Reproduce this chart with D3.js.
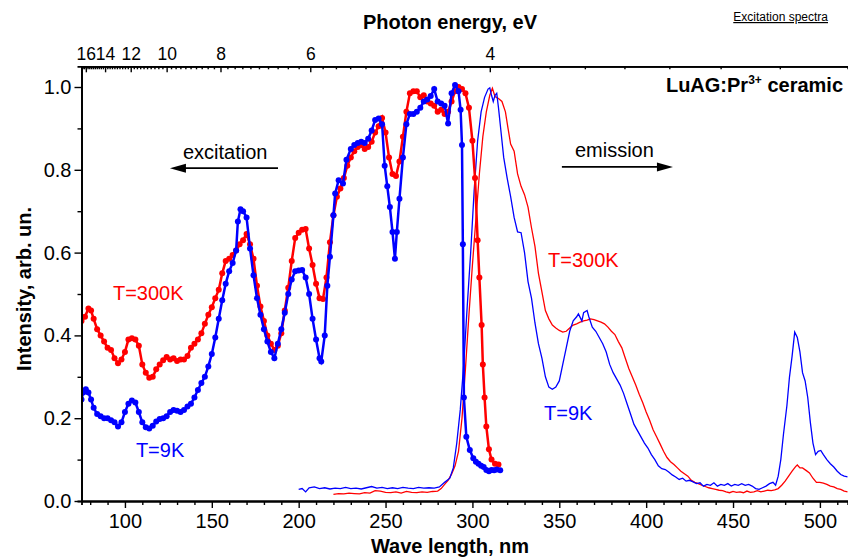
<!DOCTYPE html>
<html>
<head>
<meta charset="utf-8">
<script src="https://cdn.jsdelivr.net/npm/d3@7"></script>
<style>
  body { margin: 0; background: #fff; }
  svg { font-family: "Liberation Sans", Arial, sans-serif; }
</style>
</head>
<body>
<svg id="chart"></svg>
<script>
// excitation, T=300K (red, with markers)
const excRedWl = [75,77,79,80.5,82,84,86,88,90,92,94,96,98,100,102,104,106,108,110,112,114,116,118,120,122,124,126,128,130,132,134,136,138,140,142,144,146,148,150,152,154,156,158,160,162,164,166,168,170,172,174,176,178,180,182,184,186,188,190,192,194,196,198,200,202,204,206,208,210,212,214,216,218,220,222,224,226,228,230,232,234,236,238,240,242,244,246,248,250,252,254,256,258,260,262,264,266,268,270,272,274,276,278,280,282,284,286,288,290,292,294,296,298,300,301.5,303,304,305.3,306,307,308,309.5,311,313,315];
const excRedVal = [0.435,0.445,0.465,0.46,0.44,0.415,0.40,0.385,0.37,0.365,0.345,0.333,0.342,0.36,0.39,0.393,0.39,0.375,0.33,0.31,0.298,0.30,0.318,0.33,0.34,0.348,0.342,0.345,0.338,0.342,0.342,0.35,0.37,0.38,0.39,0.405,0.428,0.45,0.468,0.49,0.51,0.55,0.58,0.585,0.594,0.605,0.62,0.63,0.645,0.62,0.585,0.52,0.47,0.435,0.40,0.38,0.365,0.375,0.405,0.46,0.515,0.58,0.635,0.648,0.655,0.657,0.61,0.57,0.525,0.49,0.488,0.54,0.625,0.69,0.735,0.755,0.78,0.81,0.83,0.845,0.855,0.86,0.85,0.855,0.868,0.89,0.905,0.925,0.89,0.83,0.79,0.785,0.82,0.88,0.94,0.985,0.99,0.99,0.975,0.98,0.965,0.96,0.955,0.94,0.945,0.935,0.94,0.965,0.99,1.0,0.995,0.985,0.95,0.87,0.78,0.63,0.54,0.425,0.33,0.25,0.18,0.125,0.10,0.09,0.088];

// excitation, T=9K (blue, with markers)
const excBlueWl = [75,76,77.5,79,80.5,82,84,86,88,90,92,94,96,98,100,102,104,106,108,110,112,114,116,118,120,122,124,126,128,130,132,134,136,138,140,142,144,146,148,150,152,154,156,158,160,162,164,165,166.5,168,170,172,174,176,178,180,182,184,186,188,190,192,194,196,198,200,202,204,206,208,210,212,213,215,216.5,218,220,221,223,225.5,227.5,230,232,234,236,238,240,242,244,246,248,249.5,251,252.5,254,255.4,256.5,258,260,262,264,266,268,270,272,274,276,278,280,282,284,286,288,290,292,293.2,294,294.5,295.1,296.5,298.5,300.5,302,303.5,305,306.5,308,309.5,311,312.5,314,316];
const excBlueVal = [0.245,0.262,0.27,0.262,0.245,0.225,0.21,0.205,0.2,0.2,0.195,0.19,0.18,0.19,0.215,0.235,0.243,0.238,0.215,0.19,0.178,0.175,0.182,0.192,0.198,0.2,0.205,0.215,0.22,0.218,0.215,0.22,0.228,0.235,0.25,0.268,0.285,0.30,0.325,0.355,0.395,0.44,0.485,0.525,0.555,0.575,0.605,0.675,0.705,0.70,0.685,0.61,0.545,0.49,0.45,0.415,0.385,0.36,0.345,0.38,0.415,0.455,0.50,0.535,0.555,0.557,0.558,0.54,0.50,0.44,0.39,0.345,0.337,0.40,0.52,0.59,0.69,0.743,0.775,0.767,0.824,0.85,0.86,0.865,0.868,0.865,0.875,0.895,0.92,0.924,0.91,0.81,0.76,0.71,0.65,0.585,0.65,0.73,0.83,0.91,0.935,0.935,0.94,0.95,0.965,0.97,0.978,0.995,0.965,0.96,0.955,0.912,0.985,1.005,0.99,0.945,0.86,0.62,0.25,0.155,0.123,0.103,0.095,0.09,0.085,0.082,0.075,0.072,0.075,0.074,0.076,0.074];

// emission, T=9K (blue, thin line)
const emBlueWl = [200,202,204,206,209,212,215,218,221,224,227,230,233,236,239,242,245,248,251,254,257,260,263,266,269,272,275,278,281,284,287,289,291,293,295,297,299,301,303,305,307,309,310,311,312,313,314,315,316,318,320,322,324,326,328,330,332,334,336,338,340,342,344,346,348,350,352,354,356,358,360,361,363,364,366,367,369,371,373,375,377,379,381,383,385,387,389,391,393,395,397,399,401,403,405,407,409,411,413,415,417,419,421,423,425,427,429,431,433,435,437,439,441,443,445,447,449,451,453,455,457,459,461,463,465,467,469,471,473,474.5,476,477.5,479,481,482.5,484,485.5,487,488.5,490,491.5,493,494.5,496,497.5,499,500.5,502,504,506,508,510,512,514,516];
const emBlueVal = [0.028,0.03,0.022,0.032,0.034,0.03,0.032,0.029,0.031,0.03,0.033,0.03,0.031,0.029,0.032,0.035,0.031,0.033,0.03,0.032,0.03,0.033,0.031,0.03,0.033,0.031,0.032,0.031,0.034,0.045,0.055,0.08,0.14,0.22,0.33,0.47,0.6,0.75,0.87,0.94,0.975,0.995,0.998,0.98,0.965,0.98,0.985,0.95,0.91,0.83,0.78,0.735,0.685,0.65,0.648,0.6,0.53,0.49,0.43,0.38,0.345,0.3,0.275,0.27,0.275,0.29,0.33,0.37,0.41,0.435,0.445,0.452,0.435,0.455,0.46,0.445,0.42,0.41,0.395,0.38,0.36,0.33,0.31,0.295,0.28,0.26,0.235,0.21,0.185,0.17,0.155,0.14,0.128,0.112,0.1,0.085,0.078,0.076,0.07,0.063,0.058,0.052,0.055,0.048,0.05,0.046,0.042,0.044,0.036,0.04,0.038,0.044,0.036,0.04,0.038,0.042,0.036,0.04,0.038,0.042,0.038,0.04,0.036,0.03,0.028,0.032,0.036,0.042,0.045,0.038,0.06,0.1,0.16,0.23,0.3,0.35,0.408,0.395,0.36,0.31,0.29,0.25,0.19,0.14,0.112,0.12,0.122,0.112,0.1,0.09,0.082,0.072,0.064,0.06,0.058];

// emission, T=300K (red, thin line)
const emRedWl = [220,223,226,229,232,235,238,241,244,247,250,253,256,259,262,265,268,271,274,277,280,282,284,286,288,290,292,294,296,298,300,302,304,306,308,310,311.5,313,315,317,319,320.5,322,324,326,328,330,332,334,336,338,340,342,344,346,348,350,352,354,356,358,360,362,364,366,368,370,372,374,376,378,380,382,384,386,388,390,392,394,396,398,400,402,404,406,408,410,412,414,416,418,420,422,424,426,428,430,432,434,436,438,440,442,444,446,448,450,452,454,456,458,460,462,464,466,468,470,472,474,476,478,480,482,484,486,487,488.5,490,492,494,496,498,500,502,504,506,508,510,512,514,516];
const emRedVal = [0.016,0.018,0.017,0.019,0.018,0.017,0.02,0.019,0.025,0.024,0.021,0.02,0.022,0.019,0.023,0.021,0.02,0.022,0.021,0.023,0.024,0.03,0.04,0.05,0.065,0.085,0.12,0.2,0.32,0.45,0.57,0.68,0.79,0.88,0.94,0.98,0.997,0.977,0.972,0.965,0.94,0.9,0.862,0.845,0.79,0.76,0.74,0.71,0.66,0.615,0.55,0.505,0.46,0.44,0.425,0.418,0.412,0.408,0.41,0.418,0.425,0.428,0.432,0.435,0.437,0.44,0.438,0.435,0.432,0.428,0.42,0.41,0.402,0.385,0.37,0.345,0.32,0.3,0.28,0.258,0.238,0.215,0.195,0.172,0.155,0.138,0.12,0.105,0.095,0.088,0.08,0.072,0.066,0.06,0.05,0.045,0.042,0.038,0.035,0.032,0.03,0.028,0.026,0.025,0.022,0.02,0.023,0.021,0.022,0.02,0.024,0.021,0.022,0.025,0.022,0.024,0.026,0.025,0.027,0.03,0.038,0.048,0.06,0.072,0.083,0.087,0.08,0.08,0.074,0.068,0.055,0.045,0.045,0.043,0.04,0.036,0.034,0.03,0.028,0.024,0.022];

// axis ticks
const wlMajor = [100,150,200,250,300,350,400,450,500];
const yMajor = [0.0,0.2,0.4,0.6,0.8,1.0];
const eMajor = [16,14,12,10,8,6,4];

const width = 848, height = 557;
const svg = d3.select("#chart").attr("width", width).attr("height", height);

const x = d3.scaleLinear().domain([75, 516]).range([81.5, 847.7]);
const y = d3.scaleLinear().domain([0, 1.05]).range([501, 66.3]);

const RED = "#ff0000", BLUE = "#0000ff";

svg.append("defs").append("clipPath").attr("id", "plot")
  .append("rect").attr("x", x(75)).attr("y", y(1.05))
  .attr("width", x(516) - x(75)).attr("height", y(0) - y(1.05));

const line = d3.line().x(d => x(d[0])).y(d => y(d[1]));
const plot = svg.append("g").attr("clip-path", "url(#plot)");

function thin(wl, val, color) {
  plot.append("path").datum(d3.zip(wl, val))
    .attr("fill", "none").attr("stroke", color)
    .attr("stroke-width", 1.3).attr("d", line);
}
function dotted(wl, val, color) {
  const pts = d3.zip(wl, val);
  plot.append("path").datum(pts)
    .attr("fill", "none").attr("stroke", color)
    .attr("stroke-width", 2.5).attr("d", line);
  plot.append("g").selectAll("circle").data(pts).enter().append("circle")
    .attr("cx", d => x(d[0])).attr("cy", d => y(d[1]))
    .attr("r", 3).attr("fill", color);
}

thin(emRedWl, emRedVal, RED);
thin(emBlueWl, emBlueVal, BLUE);
dotted(excRedWl, excRedVal, RED);
dotted(excBlueWl, excBlueVal, BLUE);

// axes
const minorWl = d3.range(80, 516, 10).filter(v => v % 50 !== 0);
const minorY = [0.1, 0.3, 0.5, 0.7, 0.9];
const eMinor = d3.range(26, 166, 2).map(v => v / 10).filter(v => v % 2 !== 0);

function style(size) {
  return g => {
    g.select(".domain").attr("stroke-width", 1.8);
    g.selectAll(".tick line").attr("stroke-width", 1.4);
    g.selectAll("text").attr("font-size", size).attr("fill", "#000")
      .attr("font-family", "Liberation Sans, Arial, sans-serif");
  };
}

svg.append("g").attr("transform", `translate(0,${y(0)})`)
  .call(d3.axisBottom(x).tickValues(minorWl).tickSize(4).tickFormat(""))
  .call(style(20));
svg.append("g").attr("transform", `translate(0,${y(0)})`)
  .call(d3.axisBottom(x).tickValues(wlMajor).tickSize(7).tickPadding(6).tickSizeOuter(0))
  .call(style(20));

svg.append("g").attr("transform", `translate(${x(75)},0)`)
  .call(d3.axisLeft(y).tickValues(minorY).tickSize(4).tickFormat(""))
  .call(style(20));
svg.append("g").attr("transform", `translate(${x(75)},0)`)
  .call(d3.axisLeft(y).tickValues(yMajor).tickSize(7).tickPadding(3)
    .tickFormat(d3.format(".1f")).tickSizeOuter(0))
  .call(style(20));

// top axis: photon energy, E = 1240 / wavelength
const toWl = e => 1240 / e;
svg.append("g").attr("transform", `translate(0,${y(1.05)})`)
  .call(d3.axisBottom(x).tickValues(eMinor.map(toWl)).tickSize(3).tickFormat(""))
  .call(style(18));
svg.append("g").attr("transform", `translate(0,${y(1.05)})`)
  .call(d3.axisBottom(x).tickValues(eMajor.map(toWl)).tickSize(6).tickFormat("").tickSizeOuter(0))
  .call(style(18));
svg.append("g").attr("transform", `translate(0,${y(1.05)})`)
  .call(d3.axisTop(x).tickValues(eMajor.map(toWl)).tickSize(0).tickPadding(6)
    .tickFormat(d => d3.format("d")(Math.round(1240 / d))))
  .call(g => g.select(".domain").remove())
  .call(style(17.5));

// titles
svg.append("text").attr("x", 450).attr("y", 29).attr("text-anchor", "middle")
  .attr("font-size", 20).attr("font-weight", "bold").text("Photon energy, eV");
svg.append("text").attr("x", 450).attr("y", 553).attr("text-anchor", "middle")
  .attr("font-size", 20).attr("font-weight", "bold").text("Wave length, nm");
svg.append("text").attr("transform", "translate(31,289) rotate(-90)")
  .attr("text-anchor", "middle").attr("font-size", 20).attr("font-weight", "bold")
  .text("Intensity, arb. un.");

svg.append("text").attr("x", 828).attr("y", 21).attr("text-anchor", "end")
  .attr("font-size", 12).attr("text-decoration", "underline").text("Excitation spectra");

const sample = svg.append("text").attr("x", 843).attr("y", 92).attr("text-anchor", "end")
  .attr("font-size", 20).attr("font-weight", "bold");
sample.append("tspan").text("LuAG:Pr");
sample.append("tspan").attr("font-size", 12).attr("dy", -8).text("3+");
sample.append("tspan").attr("dy", 8).text(" ceramic");

// curve labels, placed in data coordinates
const labels = [
  { text: "T=300K", wl: 93.1, v: 0.486, color: RED },
  { text: "T=9K", wl: 106.3, v: 0.106, color: BLUE },
  { text: "T=300K", wl: 343.5, v: 0.565, color: RED },
  { text: "T=9K", wl: 341.2, v: 0.196, color: BLUE },
  { text: "excitation", wl: 133.4, v: 0.826, color: "#000" },
  { text: "emission", wl: 359, v: 0.831, color: "#000" }
];
svg.append("g").selectAll("text").data(labels).enter().append("text")
  .attr("x", d => x(d.wl)).attr("y", d => y(d.v))
  .attr("font-size", 20).attr("fill", d => d.color).text(d => d.text);

// arrows
const arrows = [
  { from: 188.1, to: 125.9, v: 0.804 },
  { from: 351.5, to: 415.4, v: 0.807 }
];
arrows.forEach(a => {
  const dir = Math.sign(x(a.to) - x(a.from));
  const tipX = x(a.to), yy = y(a.v);
  svg.append("line").attr("x1", x(a.from)).attr("x2", tipX - dir * 12)
    .attr("y1", yy).attr("y2", yy).attr("stroke", "#000").attr("stroke-width", 1.6);
  svg.append("path")
    .attr("d", `M${tipX},${yy} L${tipX - dir * 16},${yy - 4.5} L${tipX - dir * 16},${yy + 4.5} Z`)
    .attr("fill", "#000");
});
</script>
</body>
</html>
